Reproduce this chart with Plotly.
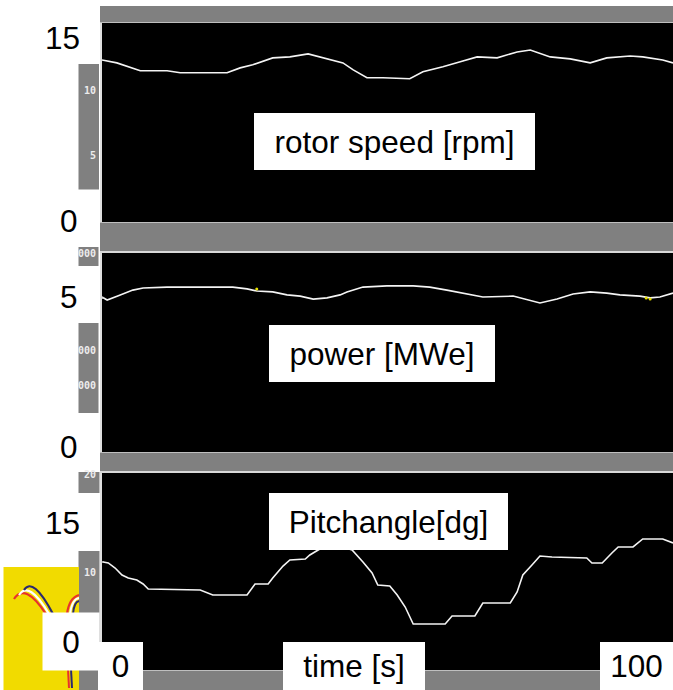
import plotly.graph_objects as go

# ---- data -------------------------------------------------------------
rotor_t = [0, 2.6, 6.7, 11.4, 13.7, 21.9, 24.2, 26.4, 29.9, 32.9, 36.1, 38.2, 41.2,
           42.2, 44.0, 46.4, 49.2, 53.9, 56.2, 59.7, 63.2, 65.7, 69.2, 72.7, 75.0,
           78.5, 82.0, 85.5, 88.4, 92.5, 94.7, 98.2, 100]
rotor_rpm = [13.2, 12.96, 12.31, 12.31, 12.15, 12.15, 12.55, 12.8, 13.37, 13.45, 13.7,
             13.45, 13.04, 12.96, 12.39, 11.74, 11.74, 11.66, 12.23, 12.64, 13.12, 13.45,
             13.37, 13.86, 14.02, 13.45, 13.29, 12.96, 13.37, 13.53, 13.45, 13.2, 12.96]

power_t = [0, 0.9, 3.2, 5.4, 7.2, 11.4, 22.9, 25.4, 27.1, 29.9, 32.4, 34.7, 37.0, 39.4,
           41.7, 42.9, 45.7, 49.9, 54.5, 57.4, 60.4, 63.2, 66.7, 72.0, 74.4, 76.7, 79.7,
           82.5, 85.5, 88.4, 90.7, 94.2, 96.0, 97.7, 100]
power_mwe = [5.0, 4.9, 5.07, 5.23, 5.3, 5.33, 5.33, 5.27, 5.2, 5.17, 5.07, 5.03, 4.93,
             4.97, 5.07, 5.17, 5.33, 5.37, 5.37, 5.33, 5.23, 5.13, 5.0, 5.03, 4.9, 4.8,
             4.93, 5.1, 5.17, 5.13, 5.07, 5.03, 4.97, 5.0, 5.13]
alarm_t = [27.1, 95.3, 96.0]
alarm_mwe = [5.27, 4.97, 4.93]

pitch_t = [0.2, 1.1, 2.3, 3.5, 4.6, 6.1, 7.2, 8.1, 17.2, 18.0, 19.4, 25.4, 26.3, 26.8,
           29.1, 29.9, 31.7, 32.9, 35.6, 36.4, 39.9, 43.8, 45.7, 47.3, 48.3, 50.4, 51.7,
           53.1, 54.5, 60.1, 61.3, 65.3, 66.7, 71.5, 72.7, 73.7, 75.3, 76.7, 78.8, 84.9,
           85.8, 87.6, 89.3, 90.4, 93.0, 94.7, 98.2, 100]
pitch_dg = [10.04, 9.92, 9.28, 8.39, 8.01, 7.75, 7.25, 6.61, 6.48, 6.23, 5.85, 5.85,
            6.74, 7.25, 7.25, 8.01, 9.53, 10.3, 10.42, 10.93, 12.46, 11.57, 10.04, 8.64,
            7.12, 6.99, 5.85, 4.32, 2.16, 2.16, 3.18, 3.18, 4.83, 4.83, 6.23, 8.39, 9.66,
            10.8, 10.68, 10.55, 9.92, 9.92, 11.19, 11.95, 11.95, 12.97, 12.97, 12.46]

panel_titles = ["rotor speed [rpm]", "power [MWe]", "Pitchangle[dg]"]
rotor_ticks = [0, 15]
power_ticks = [0, 5]
pitch_ticks = [0, 15]
time_ticks = ["0", "100"]
time_title = "time [s]"

# ---- geometry helpers (pixels -> paper) -------------------------------
W, H = 673, 690
def fx(p):
    return p / W
def fy(p):
    return 1 - p / H

def axis_range(ticks, tick_px, top_px, bottom_px):
    a, b = ticks
    pa, pb = tick_px
    k = (pa - pb) / (b - a)
    return [a + (pa - bottom_px) / k, a + (pa - top_px) / k]

panels = [
    dict(top=23, bottom=222, ticks=rotor_ticks, tick_px=(221, 38)),
    dict(top=253, bottom=452, ticks=power_ticks, tick_px=(447, 297)),
    dict(top=473, bottom=670, ticks=pitch_ticks, tick_px=(641, 523)),
]

GRAY = "#808080"
FONT = "Liberation Sans, Arial, sans-serif"
LABEL_SIZE = 31.5

fig = go.Figure()
line_style = dict(color="#f4f4f4", width=1.6)
fig.add_trace(go.Scatter(x=rotor_t, y=rotor_rpm, mode="lines", line=line_style,
                         xaxis="x", yaxis="y", name=panel_titles[0]))
fig.add_trace(go.Scatter(x=power_t, y=power_mwe, mode="lines", line=line_style,
                         xaxis="x2", yaxis="y2", name=panel_titles[1]))
fig.add_trace(go.Scatter(x=alarm_t, y=alarm_mwe, mode="markers",
                         marker=dict(color="#e6e000", size=3),
                         xaxis="x2", yaxis="y2", name="alarm"))
fig.add_trace(go.Scatter(x=pitch_t, y=pitch_dg, mode="lines", line=line_style,
                         xaxis="x3", yaxis="y3", name=panel_titles[2]))

layout = dict(
    width=W, height=H, margin=dict(l=0, r=0, t=0, b=0),
    paper_bgcolor="white", plot_bgcolor="black", showlegend=False,
)
for i, p in enumerate(panels, start=1):
    sx = "" if i == 1 else str(i)
    layout["xaxis" + sx] = dict(domain=[fx(102), 1], range=[0, 100], visible=False,
                                fixedrange=True, anchor="y" + sx)
    layout["yaxis" + sx] = dict(domain=[fy(p["bottom"]), fy(p["top"])],
                                range=axis_range(p["ticks"], p["tick_px"], p["top"], p["bottom"]),
                                visible=False, fixedrange=True, anchor="x" + sx)
fig.update_layout(**layout)

shapes = []
def rect(x0, y0, x1, y1, color):
    shapes.append(dict(type="rect", xref="paper", yref="paper", x0=fx(x0), x1=fx(x1),
                       y0=fy(y1), y1=fy(y0), fillcolor=color, line=dict(width=0),
                       layer="above"))
def seg(x0, y0, x1, y1, color, w):
    shapes.append(dict(type="line", xref="paper", yref="paper", x0=fx(x0), x1=fx(x1),
                       y0=fy(y0), y1=fy(y1), line=dict(color=color, width=w),
                       layer="above"))
def curve(pts, color, w):
    (x0, y0), (cx, cy), (x1, y1) = pts
    path = "M %f,%f Q %f,%f %f,%f" % (fx(x0), fy(y0), fx(cx), fy(cy), fx(x1), fy(y1))
    shapes.append(dict(type="path", xref="paper", yref="paper", path=path,
                       line=dict(color=color, width=w), layer="above"))

# gray frame bands around the panels
rect(100, 6, 673, 22.5, GRAY)
rect(100, 222.5, 673, 251.5, GRAY)
rect(100, 452.5, 673, 471.5, GRAY)
rect(100, 670.5, 673, 690, GRAY)
# side scale strips
rect(78.5, 64, 99, 189.5, GRAY)
rect(78.5, 247, 98.5, 266, GRAY)
rect(78.5, 323, 98.5, 413, GRAY)
rect(78.5, 472, 99.5, 493, GRAY)
rect(78.5, 551, 99.5, 690, GRAY)
# panel borders
seg(101, 23, 101, 222, "#d4d4d4", 1.5)
seg(101, 252, 101, 452, "#d4d4d4", 1.5)
seg(101, 472, 101, 670, "#d4d4d4", 1.5)
seg(100, 252, 673, 252, "#d8d8d8", 2)
seg(100, 472, 673, 472, "#d8d8d8", 2)
seg(100, 298, 104, 298, "#d8d8d8", 1.5)
seg(100, 562, 104, 562, "#d8d8d8", 1.5)

# logo tile
rect(3.5, 567, 79, 690, "#f1db00")
curve([(14, 599), (25, 582), (46, 614)], "#e8322c", 2.2)
curve([(19, 595), (29, 580), (49, 614)], "#ffffff", 2.2)
curve([(24, 590), (33, 576), (53, 614)], "#2b2a6e", 2.2)
curve([(67, 614), (69, 598), (79, 595)], "#e8322c", 2.2)
curve([(70, 614), (72, 599), (79, 598)], "#ffffff", 2.0)
curve([(73, 614), (74, 602), (79, 601)], "#2b2a6e", 2.0)
seg(68, 669, 69, 688, "#e8322c", 2)
seg(71, 669, 72, 688, "#2b2a6e", 2)

fig.update_layout(shapes=shapes)

annotations = []
def box(text, x0, y0, x1, y1, size=LABEL_SIZE):
    annotations.append(dict(text=text, xref="paper", yref="paper", x=fx(x0), y=fy(y0),
                            xanchor="left", yanchor="top", width=x1 - x0, height=y1 - y0,
                            bgcolor="white", borderpad=0, borderwidth=0, showarrow=False,
                            align="center", valign="middle",
                            font=dict(family=FONT, size=size, color="black")))
def tick_label(text, yref, y, right_px, boxed=None):
    a = dict(text=text, xref="paper", yref=yref, y=y, showarrow=False,
             font=dict(family=FONT, size=LABEL_SIZE, color="black"), yanchor="middle")
    if boxed:
        x0, x1, h = boxed
        a.update(x=fx(x0), xanchor="left", width=x1 - x0, height=h, bgcolor="white",
                 borderpad=0, align="center", valign="middle")
    else:
        a.update(x=fx(right_px), xanchor="right")
    annotations.append(a)
def tiny(text, x, y):
    annotations.append(dict(text="<b>%s</b>" % text, xref="paper", yref="paper",
                            x=fx(x), y=fy(y), xanchor="right", yanchor="middle",
                            showarrow=False,
                            font=dict(family="DejaVu Sans Mono, monospace", size=10,
                                      color="#ececec")))

# small scale numbers on the side strips
tiny("10", 98, 90)
tiny("5", 98, 155)
tiny("000", 98, 253)
tiny("000", 98, 350)
tiny("000", 98, 385)
tiny("20", 98, 475)
tiny("10", 98, 572)

# panel titles
box(panel_titles[0], 254, 113, 535, 170)
box(panel_titles[1], 269, 325, 495, 382)
box(panel_titles[2], 269, 493, 508, 550)

# value labels on each panel
tick_label(str(rotor_ticks[1]), "y", rotor_ticks[1], 82)
tick_label(str(rotor_ticks[0]), "y", rotor_ticks[0], 80)
tick_label(str(power_ticks[1]), "y2", power_ticks[1], 80)
tick_label(str(power_ticks[0]), "y2", power_ticks[0], 80)
tick_label(str(pitch_ticks[1]), "y3", pitch_ticks[1], 82)
tick_label(str(pitch_ticks[0]), "y3", pitch_ticks[0], None, boxed=(42, 98, 57))

# time axis labels
box(time_ticks[0], 98, 642, 143, 690)
box(time_title, 283, 642, 425, 690)
box(time_ticks[1], 600, 642, 673, 690)

fig.update_layout(annotations=annotations)
fig.write_html("out.html")
